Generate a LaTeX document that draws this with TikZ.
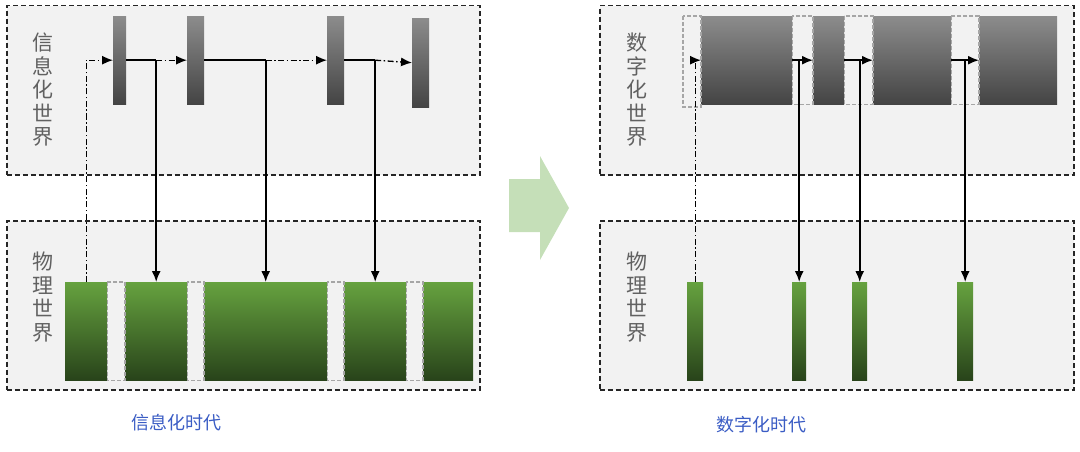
\documentclass[tikz,border=0pt]{standalone}
\usepackage{fontspec}
\setmainfont{Noto Sans CJK SC}
\usetikzlibrary{shapes,arrows.meta,positioning}
\definecolor{boxfill}{HTML}{F2F2F2}
\definecolor{barTop}{HTML}{8C8C8C}
\definecolor{barBot}{HTML}{444444}
\definecolor{greenTop}{HTML}{66A23F}
\definecolor{greenBot}{HTML}{28431A}
\definecolor{shiftgreen}{HTML}{C5DFB8}
\definecolor{capblue}{HTML}{3A5CC4}
\tikzstyle{worldbox}  = [rectangle, draw=black!85, fill=boxfill, line width=1.5pt, dash pattern=on 5pt off 3pt, anchor=north west, inner sep=0pt, minimum height=169pt]
\tikzstyle{graybar}   = [rectangle, top color=barTop, bottom color=barBot, anchor=north west, inner sep=0pt, minimum height=88pt]
\tikzstyle{greenbar}  = [rectangle, top color=greenTop, bottom color=greenBot, anchor=north west, inner sep=0pt, minimum height=98pt]
\tikzstyle{gapbox}    = [draw=black!35, line width=1.2pt, dash pattern=on 4pt off 2pt]
\tikzstyle{vlabel}    = [text=black!62, align=center, inner sep=0pt, font=\fontsize{21pt}{23.5pt}\selectfont]
\tikzstyle{caption}   = [text=capblue, inner sep=0pt, font=\fontsize{18pt}{20pt}\selectfont]
\tikzstyle{line}      = [draw, line width=1.7pt, -{Latex[length=11pt,width=9pt]}]
\tikzstyle{plain}     = [draw, line width=1.7pt]
\tikzstyle{dotline}   = [draw, line width=1.3pt, dash pattern=on 6pt off 2.5pt on 1.5pt off 2.5pt, -{Latex[length=11pt,width=9pt]}]

\begin{document}
\begin{tikzpicture}[x=1pt, y=-1pt]
        \useasboundingbox (0,0) rectangle (1080,452);

        % information era
        \node [worldbox, minimum width=473pt] (infotop) at (6,5) {};
        \node [worldbox, minimum width=473pt] (infobot) at (6,220) {};
        \node [vlabel] (infolbl) at (43,90) {信\\息\\化\\世\\界};
        \node [vlabel] (physlbl) at (43,297) {物\\理\\世\\界};

        \node [graybar, minimum width=13pt] (i1) at (113,16) {};
        \node [graybar, minimum width=17pt] (i2) at (187,16) {};
        \node [graybar, minimum width=17pt] (i3) at (327,16) {};
        \node [graybar, minimum width=17pt, minimum height=89pt] (i4) at (412,18) {};

        \node [greenbar, minimum width=42pt] (g1) at (65,282) {};
        \node [greenbar, minimum width=62pt] (g2) at (125,282) {};
        \node [greenbar, minimum width=123pt] (g3) at (204,282) {};
        \node [greenbar, minimum width=62pt] (g4) at (344,282) {};
        \node [greenbar, minimum width=50pt] (g5) at (423,282) {};
        \path [gapbox] (g1.north east) rectangle (g2.south west);
        \path [gapbox] (g2.north east) rectangle (g3.south west);
        \path [gapbox] (g3.north east) rectangle (g4.south west);
        \path [gapbox] (g4.north east) rectangle (g5.south west);

        \coordinate (j1) at (g2.north |- i1.east);
        \coordinate (j2) at (g3.north |- i2.east);
        \coordinate (j3) at (g4.north |- i3.east);
        \path [dotline] (g1.north) |- (i1.west);
        \path [plain] (i1.east) -- (j1);
        \path [dotline] (j1) -- (i2.west);
        \path [line] (j1) -- (g2.north);
        \path [plain] (i2.east) -- (j2);
        \path [dotline] (j2) -- (i3.west);
        \path [line] (j2) -- (g3.north);
        \path [plain] (i3.east) -- (j3);
        \path [dotline] (j3) -- (i4.west);
        \path [line] (j3) -- (g4.north);

        \node [caption] (infocap) at (176,423) {信息化时代};

        % shift
        \fill [shiftgreen] (509,179) -- (540,179) -- (540,156) -- (569,208)
              -- (540,260) -- (540,232) -- (509,232) -- cycle;

        % digital era
        \node [worldbox, minimum width=474pt] (digitop) at (599,5) {};
        \node [worldbox, minimum width=474pt] (digibot) at (599,220) {};
        \node [vlabel] (digilbl) at (637,90) {数\\字\\化\\世\\界};
        \node [vlabel] (phys2lbl) at (637,297) {物\\理\\世\\界};

        \node [graybar, minimum width=91pt] (d1) at (701,16) {};
        \node [graybar, minimum width=31pt] (d2) at (813,16) {};
        \node [graybar, minimum width=78pt] (d3) at (873,16) {};
        \node [graybar, minimum width=78pt] (d4) at (979,16) {};
        \path [gapbox] (683,16) rectangle (701,107);
        \path [gapbox] (d1.north east) rectangle (d2.south west);
        \path [gapbox] (d2.north east) rectangle (d3.south west);
        \path [gapbox] (d3.north east) rectangle (d4.south west);

        \node [greenbar, minimum width=16pt] (h1) at (687,282) {};
        \node [greenbar, minimum width=14pt] (h2) at (792,282) {};
        \node [greenbar, minimum width=15pt] (h3) at (852,282) {};
        \node [greenbar, minimum width=16pt] (h4) at (957,282) {};

        \coordinate (k1) at (h2.north |- d1.east);
        \coordinate (k2) at (h3.north |- d2.east);
        \coordinate (k3) at (h4.north |- d3.east);
        \path [dotline] (h1.north) |- (d1.west);
        \path [line] (d1.east) -- (d2.west);
        \path [line] (k1) -- (h2.north);
        \path [line] (d2.east) -- (d3.west);
        \path [line] (k2) -- (h3.north);
        \path [line] (d3.east) -- (d4.west);
        \path [line] (k3) -- (h4.north);

        \node [caption] (digicap) at (761,425) {数字化时代};
      \end{tikzpicture}
\end{document}
